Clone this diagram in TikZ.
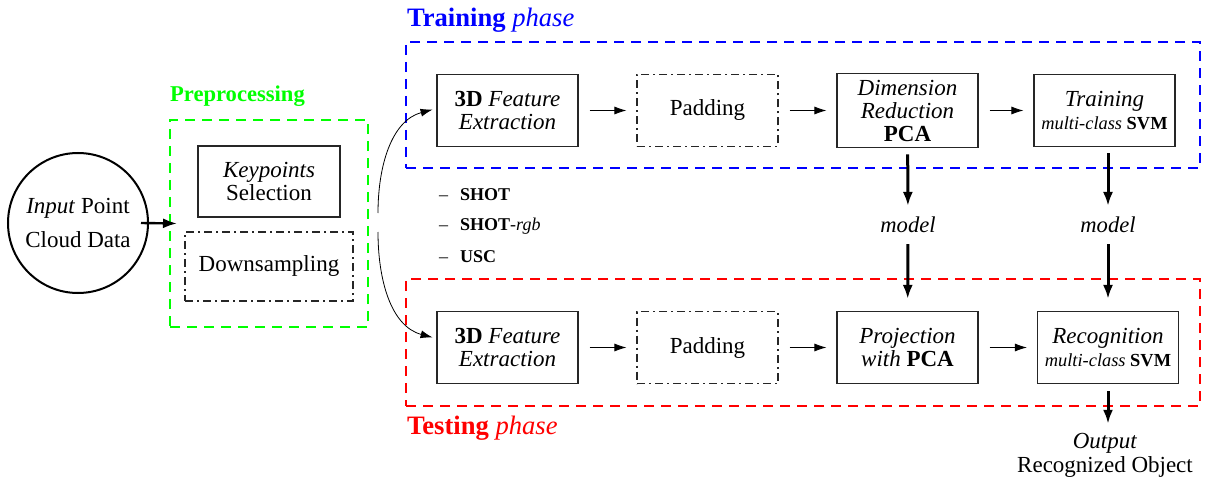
\documentclass[tikz,border=0pt]{standalone}
\usepackage{fontspec}
\setmainfont{Liberation Serif}
\usetikzlibrary{arrows.meta}

\begin{document}
\begin{tikzpicture}[x=0.5pt, y=-0.5pt,
	box/.style = {draw=black!85, line width=0.55pt, minimum width=70.5pt, minimum height=36pt, align=center, font=\fontsize{11.5}{11.5}\selectfont},
	dbox/.style = {box, dash pattern=on 4pt off 2pt on 1pt off 2pt},
	phase/.style = {draw, line width=1pt, dash pattern=on 5pt off 3.5pt, minimum width=397pt, minimum height=63pt},
	title/.style = {anchor=west, font=\fontsize{13.3}{14}\selectfont},
	arr/.style = {-{Latex[length=6pt, width=4pt]}, shorten <=5.5pt, shorten >=5pt},
	bigarr/.style = {-{Latex[length=7pt, width=5pt]}, line width=1.5pt},
	item/.style = {anchor=west, font=\fontsize{9}{10}\selectfont}]
	\useasboundingbox (0,0) rectangle (1205,481);

	% input and preprocessing
	\node[draw, circle, line width=1pt, minimum size=70pt, align=center, font=\fontsize{11.5}{17}\selectfont] (in) at (78,223) {\textit{Input} Point\\Cloud Data};
	\node[draw=green, line width=1pt, dash pattern=on 5pt off 3.5pt, minimum width=99pt, minimum height=103.5pt] (pre) at (269,223.5) {};
	\node[anchor=west, text=green, font=\fontsize{11.3}{12}\selectfont\bfseries] at (163,96) {Preprocessing};
	\node[box, minimum width=71pt, minimum height=35.5pt] (key) at (269,181.5) {\textit{Keypoints}\\Selection};
	\node[dbox, minimum width=84pt, minimum height=34.5pt] (down) at (269,266.5) {Downsampling};
	\draw[bigarr, line width=1.2pt] ([xshift=-4pt]in.east) -- ([xshift=4pt]pre.west);

	% training phase
	\node[phase, draw=blue] (train) at (803,105) {};
	\node[title, text=blue] at (400,20) {\textbf{Training} \textit{phase}};
	\node[box] (fe1) at (507.5,110.5) {\textbf{3D} \textit{Feature}\\\textit{Extraction}};
	\node[dbox, right of=fe1, node distance=100pt] (pad1) {Padding};
	\node[box, right of=pad1, node distance=100pt] (pca1) {\textit{Dimension}\\\textit{Reduction}\\\textbf{PCA}};
	\node[box, right of=pca1, node distance=98.5pt] (svm1) {\textit{Training}\\{\fontsize{9.2}{12.5}\selectfont\textit{multi-class} \textbf{SVM}}};
	\draw[arr] (fe1) -- (pad1);
	\draw[arr] (pad1) -- (pca1);
	\draw[arr] (pca1) -- (svm1);

	% descriptors
	\node[item] at (432,195) {--\hspace{6pt}\textbf{SHOT}};
	\node[item] at (432,226) {--\hspace{6pt}\textbf{SHOT}-\textit{rgb}};
	\node[item] at (432,257) {--\hspace{6pt}\textbf{USC}};

	% testing phase
	\node[phase, draw=red, minimum height=63.5pt] (test) at (803,342.5) {};
	\node[title, text=red] at (400,428) {\textbf{Testing} \textit{phase}};
	\node[box, below of=fe1, node distance=118.5pt] (fe2) {\textbf{3D} \textit{Feature}\\\textit{Extraction}};
	\node[dbox, right of=fe2, node distance=100pt] (pad2) {Padding};
	\node[box, right of=pad2, node distance=100pt] (pca2) {\textit{Projection}\\\textit{with} \textbf{PCA}};
	\node[box, right of=pca2, node distance=100.25pt] (svm2) {\textit{Recognition}\\{\fontsize{9.2}{12.5}\selectfont\textit{multi-class} \textbf{SVM}}};
	\draw[arr] (fe2) -- (pad2);
	\draw[arr] (pad2) -- (pca2);
	\draw[arr] (pca2) -- (svm2);

	% split into both phases
	\coordinate (b1) at (378,213);
	\coordinate (b2) at (378,232);
	\draw[-{Latex[length=6pt, width=4pt]}, shorten >=2pt] (b1) to[out=90, in=195] ([yshift=1pt]fe1.west);
	\draw[-{Latex[length=6pt, width=4pt]}, shorten >=2pt] (b2) to[out=-90, in=165] ([yshift=4.5pt]fe2.west);

	% models
	\node[font=\fontsize{11.3}{12}\selectfont\itshape] (mod1) at (908,225) {model};
	\node[font=\fontsize{11.3}{12}\selectfont\itshape] (mod2) at (1108,225) {model};
	\draw[bigarr, shorten <=3pt, shorten >=2pt] (pca1) -- (mod1);
	\draw[bigarr, shorten <=3pt, shorten >=2pt] (svm1.south -| mod2) -- (mod2);
	\draw[bigarr, shorten <=2pt, shorten >=6pt] (mod1) -- (pca2);
	\draw[bigarr, shorten <=2pt, shorten >=6pt] (mod2) -- (svm2.north -| mod2);

	% output
	\node[align=center, font=\fontsize{11.5}{12}\selectfont] (out) at (1105,455) {\textit{Output}\\Recognized Object};
	\draw[bigarr, shorten <=3.5pt, shorten >=1pt] (svm2.south -| mod2) -- (out.north -| mod2);
\end{tikzpicture}
\end{document}
